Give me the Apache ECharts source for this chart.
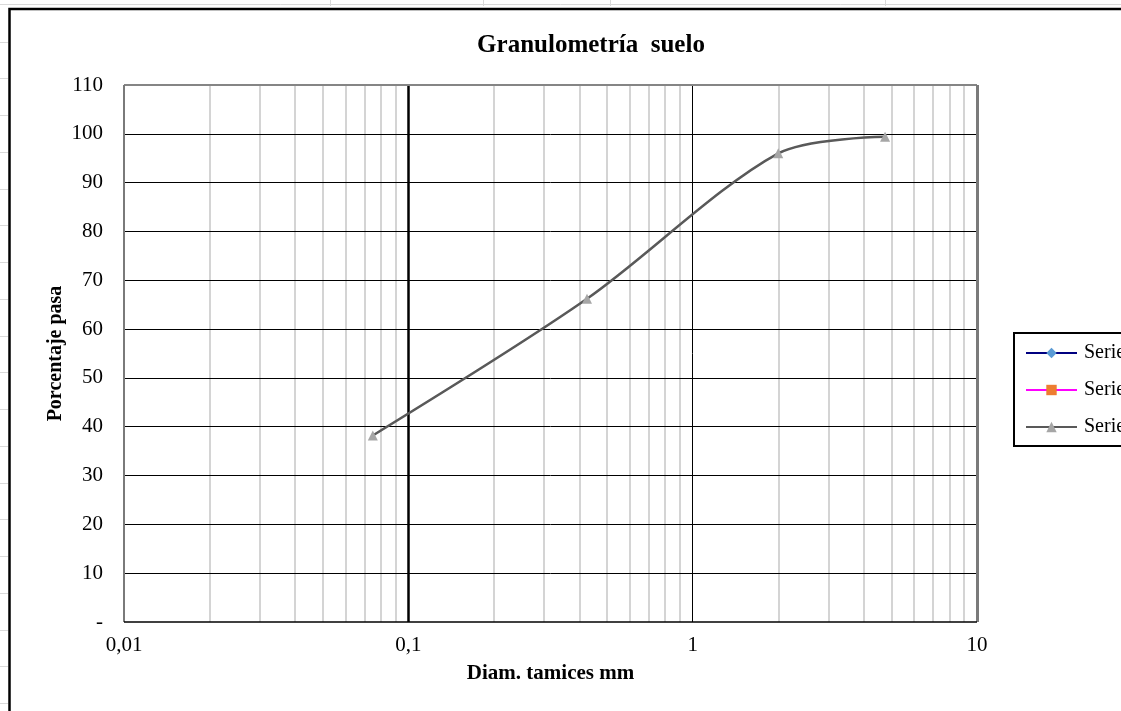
<!DOCTYPE html>
<html>
<head>
<meta charset="utf-8">
<title>Granulometría suelo</title>
<script src="https://cdn.jsdelivr.net/npm/echarts@6/dist/echarts.min.js"></script>
<style>
  html, body { margin: 0; padding: 0; background: #ffffff; }
  #chart { width: 1121px; height: 711px; }
</style>
</head>
<body>
<div id="chart"></div>
<script>
// Sieve openings (mm) and percentage passing
const sieveSizes = [0.075, 0.425, 2.0, 4.75];
const percentPassing = [38.2, 66.2, 96.0, 99.4];

// Legend entries (only Serie3 carries data)
const seriesNames = ['Serie1', 'Serie2', 'Serie3'];

// Axis ticks and their labels
const xTicks = [0.01, 0.1, 1, 10];
const xTickLabels = ['0,01', '0,1', '1', '10'];
const yTicks = [0, 10, 20, 30, 40, 50, 60, 70, 80, 90, 100, 110];
const yTickLabels = ['-', '10', '20', '30', '40', '50', '60', '70', '80', '90', '100', '110'];

// Log-scale intermediate gridlines (2..9 of each decade)
const minorX = [];
for (let d = 0; d < xTicks.length - 1; d++) {
  for (let k = 2; k <= 9; k++) minorX.push(+(xTicks[d] * k).toPrecision(3));
}

const serif = '"Liberation Serif", "Times New Roman", serif';

const gridLines = [];
minorX.forEach(v => gridLines.push({ xAxis: v, lineStyle: { color: '#c6c6c6', width: 1.5, type: 'solid' } }));
yTicks.slice(1, -1).forEach(v => gridLines.push({ yAxis: v, lineStyle: { color: '#000000', width: 1, type: 'solid' } }));
gridLines.push({ xAxis: 0.1, lineStyle: { color: '#000000', width: 2.5, type: 'solid' } });
gridLines.push({ xAxis: 1, lineStyle: { color: '#000000', width: 1, type: 'solid' } });
// plot-area frame
gridLines.push({ yAxis: 110, lineStyle: { color: '#858585', width: 2, type: 'solid' } });
gridLines.push({ xAxis: 10, lineStyle: { color: '#7a7a7a', width: 3, type: 'solid' } });
gridLines.push({ xAxis: 0.01, lineStyle: { color: '#7a7a7a', width: 2, type: 'solid' } });
gridLines.push({ yAxis: 0, lineStyle: { color: '#000000', width: 1.5, type: 'solid' } });

// Spreadsheet cell borders around the chart object
const sheet = [];
sheet.push({ type: 'line', shape: { x1: 0, y1: 4.5, x2: 1121, y2: 4.5 }, style: { stroke: '#d9d9d9', lineWidth: 1 }, z: 0 });
[330, 483, 610, 885].forEach(x => sheet.push({ type: 'line', shape: { x1: x + 0.5, y1: 0, x2: x + 0.5, y2: 6 }, style: { stroke: '#d9d9d9', lineWidth: 1 }, z: 0 }));
for (let y = 41.5; y < 711; y += 36.75) {
  sheet.push({ type: 'line', shape: { x1: 0, y1: Math.round(y) + 0.5, x2: 8, y2: Math.round(y) + 0.5 }, style: { stroke: '#d9d9d9', lineWidth: 1 }, z: 0 });
}
// Chart object outline
sheet.push({ type: 'rect', shape: { x: 9.5, y: 9, width: 1300, height: 900 }, style: { fill: 'none', stroke: '#000000', lineWidth: 2.5 }, z: 1 });

const chart = echarts.init(document.getElementById('chart'), null, { renderer: 'canvas' });
chart.setOption({
  animation: false,
  backgroundColor: '#ffffff',
  title: {
    text: 'Granulometría  suelo',
    left: 586,
    top: 28,
    textAlign: 'center',
    textStyle: { fontFamily: serif, fontSize: 25, fontWeight: 'bold', color: '#000000' }
  },
  graphic: sheet,
  legend: {
    orient: 'vertical',
    left: 1014,
    top: 333,
    padding: [10, 60, 9, 11],
    itemWidth: 51,
    itemHeight: 13,
    itemGap: 17,
    borderColor: '#000000',
    borderWidth: 2,
    data: seriesNames,
    textStyle: { fontFamily: serif, fontSize: 20, color: '#000000', lineHeight: 20, padding: [0, 0, 0, 2] }
  },
  grid: { left: 124, right: 144, top: 85, bottom: 89, containLabel: false },
  xAxis: {
    type: 'log',
    logBase: 10,
    min: xTicks[0],
    max: xTicks[xTicks.length - 1],
    name: 'Diam. tamices mm',
    nameLocation: 'middle',
    nameGap: 41,
    nameMoveOverlap: false,
    nameTextStyle: { fontFamily: serif, fontSize: 21, fontWeight: 'bold', color: '#000000' },
    axisLine: { show: false },
    axisTick: { show: false },
    splitLine: { show: false },
    axisLabel: {
      margin: 13,
      fontFamily: serif,
      fontSize: 21,
      color: '#000000',
      formatter: v => {
        const i = xTicks.findIndex(t => Math.abs(t - v) / t < 1e-6);
        return i >= 0 ? xTickLabels[i] : '';
      }
    }
  },
  yAxis: {
    type: 'value',
    min: 0,
    max: 110,
    interval: 10,
    name: 'Porcentaje pasa',
    nameLocation: 'middle',
    nameGap: 58,
    nameMoveOverlap: false,
    nameRotate: 90,
    nameTextStyle: { fontFamily: serif, fontSize: 20, fontWeight: 'bold', color: '#000000' },
    axisLine: { show: false },
    axisTick: { show: false },
    splitLine: { show: false },
    axisLabel: {
      margin: 21,
      fontFamily: serif,
      fontSize: 21,
      color: '#000000',
      formatter: v => {
        const i = yTicks.indexOf(Math.round(v));
        return i >= 0 ? yTickLabels[i] : '';
      }
    }
  },
  series: [
    {
      name: '__grid',
      type: 'line',
      data: [],
      silent: true,
      legendHoverLink: false,
      markLine: {
        silent: true,
        symbol: ['none', 'none'],
        label: { show: false },
        emphasis: { disabled: true },
        animation: false,
        data: gridLines
      }
    },
    {
      name: seriesNames[0],
      type: 'line',
      data: [],
      symbol: 'diamond',
      symbolSize: 9,
      itemStyle: { color: '#5b9bd5' },
      lineStyle: { color: '#000080', width: 2 }
    },
    {
      name: seriesNames[1],
      type: 'line',
      data: [],
      symbol: 'rect',
      symbolSize: 12,
      itemStyle: { color: '#ed7d31' },
      lineStyle: { color: '#ff00ff', width: 2 }
    },
    {
      name: seriesNames[2],
      type: 'line',
      data: sieveSizes.map((s, i) => [s, percentPassing[i]]),
      smooth: 0.3,
      symbol: 'triangle',
      symbolSize: 10,
      z: 5,
      itemStyle: { color: '#a6a6a6' },
      lineStyle: { color: '#595959', width: 2.5 }
    }
  ]
});
</script>
</body>
</html>
